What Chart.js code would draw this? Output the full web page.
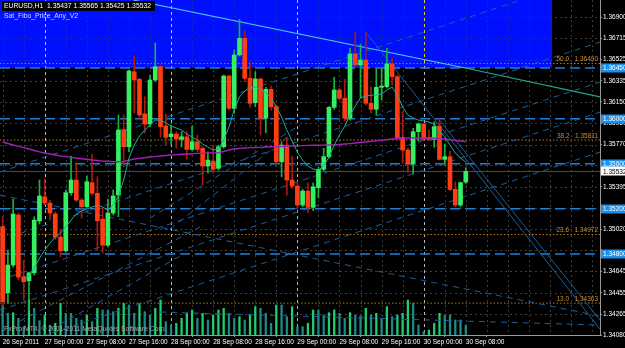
<!DOCTYPE html>
<html><head><meta charset="utf-8">
<script src="https://cdn.jsdelivr.net/npm/chart.js@4/dist/chart.umd.min.js"></script>
<style>html,body{margin:0;padding:0;background:#000;overflow:hidden}#wrap{width:625px;height:348px;position:relative}</style>
</head><body><div id="wrap"><canvas id="c" width="625" height="348"></canvas></div>
<script>
// ---- DATA (EURUSD H1, 26 Sep 16:00 -> 30 Sep 08:00) ----
const opens  = [1.35041,1.34455,1.34701,1.35145,1.34597,1.34561,1.34632,1.35092,1.35307,1.35251,1.35154,1.34949,1.34828,1.35343,1.35456,1.35278,1.35219,1.35432,1.35338,1.35109,1.34878,1.35163,1.35322,1.35904,1.35751,1.36417,1.36350,1.36042,1.35953,1.36344,1.36462,1.35935,1.35840,1.35864,1.35817,1.35840,1.35728,1.35796,1.35737,1.35580,1.35624,1.35560,1.35751,1.36379,1.36092,1.36566,1.36714,1.36359,1.36142,1.36353,1.36004,1.36261,1.36107,1.35618,1.35766,1.35456,1.35402,1.35234,1.35358,1.35213,1.35387,1.35551,1.35663,1.36101,1.36255,1.36181,1.36004,1.36575,1.36477,1.36521,1.36137,1.36084,1.36279,1.36284,1.36486,1.36373,1.35835,1.35722,1.35598,1.35885,1.35953,1.35835,1.35817,1.35935,1.35639,1.35663,1.35373,1.35234,1.35437];
const highs  = [1.35130,1.34834,1.35287,1.35163,1.34745,1.34639,1.35130,1.35456,1.35464,1.35278,1.35174,1.35021,1.35367,1.35669,1.35609,1.35293,1.35491,1.35686,1.35485,1.35207,1.35287,1.35367,1.36033,1.36033,1.36432,1.36557,1.36361,1.36195,1.36388,1.36672,1.36477,1.36042,1.35944,1.35885,1.35885,1.35885,1.35935,1.35855,1.35751,1.35707,1.35766,1.35766,1.36388,1.36388,1.36610,1.36883,1.36781,1.36506,1.36417,1.36361,1.36279,1.36290,1.36122,1.35796,1.35835,1.35669,1.35441,1.35373,1.35429,1.35432,1.35568,1.35737,1.36107,1.36368,1.36270,1.36350,1.36625,1.36769,1.36663,1.36769,1.36284,1.36440,1.36450,1.36625,1.36539,1.36388,1.36062,1.35740,1.35915,1.35964,1.35959,1.35900,1.35973,1.36004,1.35775,1.35716,1.35441,1.35438,1.35565];
const lows   = [1.34337,1.34363,1.34683,1.34568,1.34390,1.34301,1.34612,1.35065,1.35234,1.35100,1.34929,1.34775,1.34816,1.35322,1.35263,1.35118,1.35213,1.35322,1.34834,1.34807,1.34863,1.35145,1.35130,1.35574,1.35707,1.36051,1.35988,1.35873,1.35929,1.36329,1.35837,1.35766,1.35775,1.35740,1.35751,1.35642,1.35716,1.35707,1.35411,1.35518,1.35518,1.35544,1.35737,1.36077,1.36051,1.36557,1.36329,1.36101,1.36107,1.35855,1.35876,1.36077,1.35604,1.35485,1.35322,1.35382,1.35198,1.35219,1.35167,1.35183,1.35296,1.35538,1.35648,1.36083,1.36166,1.35982,1.35988,1.36462,1.36184,1.36122,1.36051,1.36033,1.36166,1.36273,1.36299,1.35811,1.35604,1.35520,1.35509,1.35805,1.35805,1.35805,1.35746,1.35633,1.35589,1.35361,1.35219,1.35219,1.35425];
const closes = [1.34375,1.34701,1.35154,1.34594,1.34553,1.34632,1.35100,1.35314,1.35254,1.35163,1.34949,1.34828,1.35343,1.35456,1.35278,1.35219,1.35441,1.35338,1.35094,1.34878,1.35163,1.35314,1.35900,1.35751,1.36424,1.36344,1.36033,1.35953,1.36344,1.36462,1.35929,1.35835,1.35864,1.35820,1.35840,1.35728,1.35796,1.35728,1.35580,1.35633,1.35551,1.35751,1.36379,1.36092,1.36566,1.36714,1.36359,1.36137,1.36353,1.36004,1.36261,1.36107,1.35618,1.35766,1.35456,1.35402,1.35234,1.35358,1.35213,1.35396,1.35551,1.35663,1.36101,1.36255,1.36181,1.36004,1.36575,1.36477,1.36521,1.36137,1.36084,1.36279,1.36290,1.36486,1.36373,1.35826,1.35722,1.35598,1.35885,1.35953,1.35817,1.35817,1.35929,1.35639,1.35663,1.35373,1.35234,1.35432,1.35532];
const volumes = [1800,1300,1340,1000,500,2100,1600,860,1200,600,700,1900,1300,1300,1000,900,1200,800,1600,1500,1500,1400,1600,1900,1800,1300,1900,1400,1200,1600,2100,800,600,700,1000,1300,1500,1000,1300,900,1200,1500,1600,1300,1000,1100,900,1200,1700,1600,1300,700,1800,1800,1100,1700,500,500,700,1500,1500,1200,1340,1500,1300,1000,1340,1200,1140,1600,1200,1300,1000,1700,1100,1200,1300,2100,1900,600,200,300,700,1300,1200,1200,900,900,600];
const maFast = [null,null,null,null,1.34585,1.34603,1.34674,1.34763,1.34834,1.34896,1.34949,1.34985,1.35038,1.35100,1.35154,1.35180,1.35198,1.35216,1.35234,1.35216,1.35189,1.35234,1.35314,1.35456,1.35651,1.35766,1.35846,1.35900,1.35944,1.35988,1.35988,1.35962,1.35935,1.35917,1.35900,1.35864,1.35837,1.35811,1.35775,1.35749,1.35722,1.35731,1.35811,1.35926,1.36077,1.36193,1.36246,1.36273,1.36281,1.36264,1.36228,1.36184,1.36104,1.36015,1.35900,1.35802,1.35704,1.35633,1.35580,1.35553,1.35544,1.35580,1.35660,1.35766,1.35855,1.35935,1.36033,1.36113,1.36184,1.36202,1.36210,1.36210,1.36219,1.36255,1.36281,1.36210,1.36104,1.36033,1.36006,1.35988,1.35980,1.35971,1.35953,1.35891,1.35837,1.35766,1.35695,1.35651,1.35615];
const maSlow = [1.35793,1.35780,1.35767,1.35755,1.35743,1.35731,1.35718,1.35706,1.35696,1.35687,1.35678,1.35669,1.35664,1.35657,1.35651,1.35645,1.35640,1.35633,1.35629,1.35624,1.35622,1.35619,1.35618,1.35620,1.35633,1.35642,1.35648,1.35654,1.35660,1.35664,1.35669,1.35673,1.35678,1.35681,1.35685,1.35687,1.35689,1.35692,1.35694,1.35696,1.35697,1.35698,1.35709,1.35722,1.35731,1.35737,1.35740,1.35743,1.35744,1.35746,1.35749,1.35751,1.35752,1.35754,1.35756,1.35758,1.35759,1.35761,1.35763,1.35764,1.35765,1.35766,1.35767,1.35768,1.35771,1.35775,1.35779,1.35784,1.35789,1.35793,1.35800,1.35805,1.35809,1.35814,1.35820,1.35824,1.35826,1.35828,1.35829,1.35829,1.35829,1.35829,1.35827,1.35823,1.35820,1.35814,1.35807,1.35802,1.35796];
const timeTickIndex  = [0,8,16,24,32,40,48,56,64,72,80,88];
const timeTickLabels = ["26 Sep 2011","27 Sep 00:00","27 Sep 08:00","27 Sep 16:00","28 Sep 00:00","28 Sep 08:00","28 Sep 16:00","29 Sep 00:00","29 Sep 08:00","29 Sep 16:00","30 Sep 00:00","30 Sep 08:00"];
const priceTicks = [1.36900,1.36715,1.36525,1.36335,1.36150,1.35960,1.35770,1.35585,1.35395,1.35205,1.35020,1.34835,1.34645,1.34455,1.34265,1.34080];
const hiddenPriceLabels = [1.35585,1.35205,1.34835];
const levelPrices = [1.36450,1.36000,1.35600,1.35200,1.34800];
const fibLevels = ["50.0","38.2","23.6","13.0"];
const fibPrices = [1.36490,1.35811,1.34972,1.34363];
const lastPrice = 1.35532;
const titleText = "EURUSD,H1  1.35437 1.35565 1.35425 1.35532";
const indicatorName = "Sat_Fibo_Price_Any_V2";
const copyrightText = "FxPro MT4, \u00A9 2001-2011 MetaQuotes Software Corp.";
const zoneBars = [-0.5, 104.4];
const zonePrices = [1.36450, 1.37300];
const separatorBars = [8,32,56,80];
// trend objects: [bar1, price1, bar2, price2]
const cyanLineUpper = [24.8, 1.37054, 87.9, 1.36450];
const cyanLineLower = [87.9, 1.36450, 113.5, 1.36193];
const solidLines = [[69, 1.36769, 113.5, 1.34133],[83, 1.35988, 113.5, 1.34212]];
const dashedLines = [[-0.5,1.35322,113.5,1.34248],[-0.5,1.35527,113.5,1.37285],[-0.5,1.34923,113.5,1.36681],[-0.5,1.34568,113.5,1.36326],[-0.5,1.34301,113.5,1.36059],[-0.5,1.33946,113.5,1.35704],[29.9,1.34284,113.5,1.34168],
  [3.3,1.34204,37.5,1.35038],[9.0,1.34124,33.7,1.34781],[28.0,1.35118,56.5,1.35944],[31.8,1.35021,54.6,1.35855]];

// ---- CHART ----
const X_MIN = -0.5, X_MAX = 113.5;
const FONT = '"Liberation Sans", Arial, sans-serif';
const bull = i => closes[i] >= opens[i];
const seg = (l) => [{x:l[0], y:l[1]}, {x:l[2], y:l[3]}];
const lineDs = (data, color, width, dash, order) => ({type:'line', data, borderColor:color, borderWidth:width, borderDash:dash||[], pointRadius:0, fill:false, tension:0, order, yAxisID:'y'});

const datasets = [];
datasets.push({type:'bar', data: volumes.map((v,i)=>({x:i,y:v})), yAxisID:'yv', barThickness:1.6, grouped:false,
  backgroundColor: volumes.map((v,i)=> (i>0 && v>volumes[i-1]) ? '#1fd070' : '#1e8a86'), order:9});
fibPrices.forEach(p => datasets.push(lineDs([{x:X_MIN,y:p},{x:X_MAX,y:p}], '#b07a1c', 1, [1.5,2], 8)));
levelPrices.forEach(p => datasets.push(lineDs([{x:X_MIN,y:p},{x:X_MAX,y:p}], '#1e7fd6', 1.5, [10,5], 7)));
dashedLines.forEach(l => datasets.push(lineDs(seg(l), '#1b5f9e', 1, [6,5], 6)));
solidLines.forEach(l => datasets.push(lineDs(seg(l), '#1b5f9e', 1, [], 6)));
datasets.push(lineDs(seg(cyanLineUpper), '#4fc8e8', 1.2, [], 6));
datasets.push(lineDs(seg(cyanLineLower), '#22a88a', 1.2, [], 6));
datasets.push(lineDs([{x:X_MIN,y:lastPrice},{x:X_MAX,y:lastPrice}], '#2f5a48', 1, [], 5));
datasets.push({type:'bar', data: opens.map((o,i)=>({x:i, y:[lows[i], highs[i]]})), barThickness:1, grouped:false,
  backgroundColor: opens.map((o,i)=> bull(i) ? '#19b43c' : '#a81a10'), order:4});
datasets.push({type:'bar', data: opens.map((o,i)=>({x:i, y:[opens[i], closes[i]]})), barThickness:4, grouped:false, minBarLength:1,
  backgroundColor: opens.map((o,i)=> bull(i) ? '#34f060' : '#ff3c14'), order:3});
datasets.push(lineDs(maSlow.map((v,i)=>({x:i,y:v})), '#a020b8', 1.4, [], 2));
datasets.push(lineDs(maFast.map((v,i)=>({x:i,y:v})), '#1fa898', 1, [], 1));

const bgPlugin = {
  id:'bg',
  beforeDraw(chart){
    const {ctx, chartArea:a, scales:{x,y}} = chart;
    ctx.save();
    ctx.fillStyle='#000'; ctx.fillRect(0,0,chart.width,chart.height);
    const rx1 = x.getPixelForValue(zoneBars[0]), rx2 = x.getPixelForValue(zoneBars[1]);
    const ry1 = y.getPixelForValue(zonePrices[1]), ry2 = y.getPixelForValue(zonePrices[0]);
    ctx.beginPath(); ctx.rect(a.left,a.top,a.right-a.left,a.bottom-a.top); ctx.clip();
    ctx.fillStyle='#0010ff'; ctx.fillRect(rx1, ry1, rx2-rx1, ry2-ry1);
    const grid = (gc, sc) => {
      ctx.lineWidth = 1; ctx.strokeStyle = gc; ctx.setLineDash([2,3]);
      priceTicks.forEach(p => { const py = Math.round(y.getPixelForValue(p))+0.5; ctx.beginPath(); ctx.moveTo(a.left,py); ctx.lineTo(a.right,py); ctx.stroke(); });
      for (let b=0; b<=X_MAX; b+=4) { if (separatorBars.includes(b)) continue; const px = Math.round(x.getPixelForValue(b))+0.5; ctx.beginPath(); ctx.moveTo(px,a.top); ctx.lineTo(px,a.bottom); ctx.stroke(); }
      ctx.strokeStyle = sc; ctx.setLineDash([3,3]);
      separatorBars.forEach(b => { const px = Math.round(x.getPixelForValue(b))+0.5; ctx.beginPath(); ctx.moveTo(px,a.top); ctx.lineTo(px,a.bottom); ctx.stroke(); });
    };
    ctx.save(); ctx.beginPath(); ctx.rect(rx1,ry1,rx2-rx1,ry2-ry1); ctx.clip(); grid('#1a2ab0', '#d8cc40'); ctx.restore();
    ctx.save(); ctx.beginPath(); ctx.rect(a.left,a.top,a.right-a.left,a.bottom-a.top); ctx.rect(rx1,ry1,rx2-rx1,ry2-ry1); ctx.clip('evenodd'); grid('#3c3c3c', '#b8b8b8'); ctx.restore();
    ctx.restore();
  }
};

const labelPlugin = {
  id:'labels',
  afterDraw(chart){
    const {ctx, chartArea:a, scales:{y}} = chart;
    ctx.save();
    ctx.font = '6.5px ' + FONT; ctx.textBaseline='middle'; ctx.textAlign='left';
    const box = (p, bg, fg) => { const py = y.getPixelForValue(p); ctx.fillStyle=bg; ctx.fillRect(a.right+1, Math.round(py)-4.5, 24, 9); ctx.fillStyle=fg; ctx.fillText(p.toFixed(5), a.right+3, py+0.5); };
    levelPrices.forEach(p => box(p, '#1e8ee6', '#ffffff'));
    box(lastPrice, '#ffffff', '#000000');
    ctx.textAlign='right'; ctx.fillStyle='#c98e28';
    fibPrices.forEach((p,i) => { const py = y.getPixelForValue(p); ctx.fillText(fibLevels[i] + '   ' + p.toFixed(5), a.right-2, py-4); });
    ctx.textAlign='left'; ctx.font = '6.8px ' + FONT;
    const tw = ctx.measureText(titleText).width;
    ctx.fillStyle='#000'; ctx.fillRect(2,1,tw+6,10);
    ctx.fillStyle='#ffffff'; ctx.fillText(titleText, 4, 6.5);
    ctx.fillStyle='#d4d8ff'; ctx.fillText(indicatorName, 4, 16.5);
    ctx.fillStyle='#a8a8a8'; ctx.fillText(copyrightText, 4, 329.5);
    ctx.restore();
  }
};

Chart.defaults.font.family = FONT;
new Chart(document.getElementById('c'), {
  type:'bar',
  data:{ datasets },
  options:{
    responsive:false, devicePixelRatio:1, animation:false,
    layout:{padding:0},
    plugins:{legend:{display:false}, tooltip:{enabled:false}},
    scales:{
      x:{type:'linear', min:X_MIN, max:X_MAX, offset:false,
        grid:{drawOnChartArea:false, drawTicks:true, tickLength:2, color:'#9a9a9a'},
        border:{display:true, color:'#9a9a9a', width:1},
        afterBuildTicks: s => { s.ticks = timeTickIndex.map(v=>({value:v})); },
        afterFit: s => { s.height = 13; s.paddingLeft = 0; s.paddingRight = 0; },
        ticks:{autoSkip:false, maxRotation:0, align:'start', padding:1, color:'#ffffff', font:{size:6.5},
          callback:(v,i)=> timeTickLabels[i]}},
      y:{type:'linear', position:'right', min:1.34080, max:1.37054,
        grid:{drawOnChartArea:false, drawTicks:true, tickLength:2, color:'#9a9a9a'},
        border:{display:true, color:'#9a9a9a', width:1},
        afterBuildTicks: s => { s.ticks = priceTicks.map(v=>({value:v})); },
        afterFit: s => { s.width = 25; s.paddingTop = 0; s.paddingBottom = 0; },
        ticks:{autoSkip:false, padding:1, color:'#ffffff', font:{size:6.5},
          callback:(v)=> hiddenPriceLabels.includes(v) ? '' : v.toFixed(5)}},
      yv:{type:'linear', display:false, min:0, max:20100}
    }
  },
  plugins:[bgPlugin, labelPlugin]
});
</script></body></html>
